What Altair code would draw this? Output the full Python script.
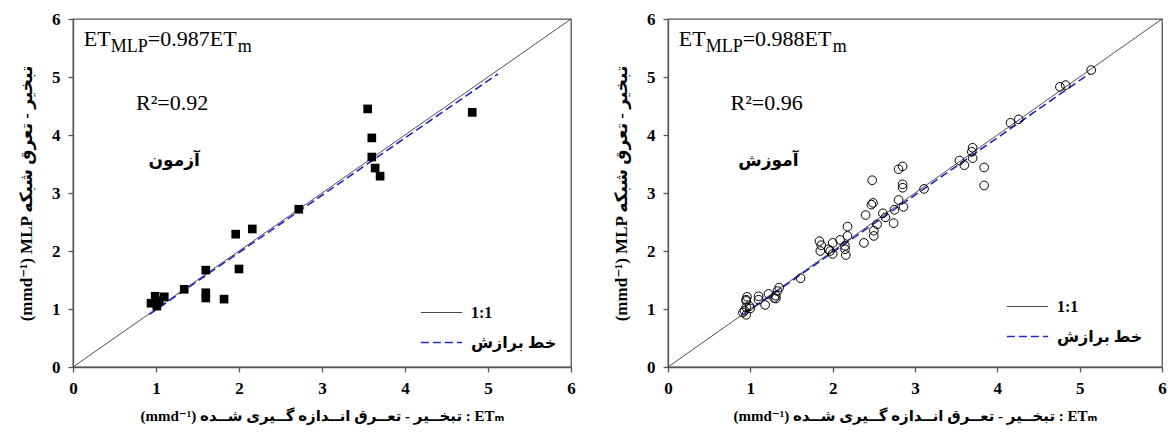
import altair as alt
import pandas as pd

# ---------------- data ----------------
test_x = [0.94, 0.99, 1.01, 1.04, 1.10, 1.34, 1.60, 1.60, 1.60, 1.82, 1.96, 2.00, 2.16, 2.72, 3.55, 3.60, 3.60, 3.64, 3.70, 4.81]
test_y = [1.10, 1.22, 1.05, 1.14, 1.21, 1.34, 1.67, 1.28, 1.19, 1.17, 2.29, 1.69, 2.38, 2.72, 4.45, 3.95, 3.62, 3.43, 3.29, 4.39]

train_x = [0.91, 0.95, 0.93, 0.96, 0.95, 0.95, 0.99, 1.00, 0.95,
           1.10, 1.10, 1.18, 1.22, 1.29, 1.31, 1.33, 1.35, 1.31,
           1.61,
           1.84, 1.85, 1.86, 1.95, 2.00, 2.00, 1.97, 2.09, 2.16, 2.18, 2.18, 2.15, 2.15,
           2.38, 2.40, 2.50, 2.50, 2.54, 2.49, 2.47, 2.48, 2.61, 2.64, 2.74, 2.75, 2.80, 2.86, 2.85, 2.85, 2.85, 2.80,
           3.11,
           3.54, 3.60, 3.70, 3.69, 3.70, 3.84, 3.84,
           4.16, 4.26, 4.76, 4.83, 5.14]
train_y = [0.94, 0.90, 0.97, 1.21, 1.16, 1.14, 1.05, 1.01, 1.03,
           1.22, 1.16, 1.07, 1.26, 1.19, 1.23, 1.31, 1.37, 1.18,
           1.53,
           2.17, 2.00, 2.10, 2.03, 2.14, 1.95, 2.00, 2.19, 1.93, 2.26, 2.42, 2.09, 2.03,
           2.14, 2.62, 2.26, 2.35, 2.46, 2.83, 2.80, 3.22, 2.65, 2.58, 2.48, 2.71, 2.88, 2.76, 3.15, 3.09, 3.46, 3.41,
           3.07,
           3.56, 3.48, 3.78, 3.71, 3.60, 3.44, 3.13,
           4.21, 4.27, 4.83, 4.86, 5.12]

tick_values = [0, 1, 2, 3, 4, 5, 6]
series_names = ["1:1", "خط برازش"]
identity_x = [0, 6]
fit_x = [0.92, 5.12]
slope_test = 0.987
slope_train = 0.988

x_title = "(mmd⁻¹) تبخــیر - تعــرق انــدازه گــیری شــده : ETₘ"
y_title = "(mmd⁻¹) MLP تبخیر - تعرق شبکه"

SERIF = "Liberation Serif, DejaVu Sans"
ARABIC = "DejaVu Sans, Liberation Serif"


def panel(px, py, marker, slope, slope_txt, r2_txt, name_txt, width, legend_x, legend_y):
    pts = pd.DataFrame({"x": px, "y": py})
    lines = pd.DataFrame({
        "x": identity_x + fit_x,
        "y": identity_x + [slope * v for v in fit_x],
        "series": [series_names[0]] * 2 + [series_names[1]] * 2,
    })
    xs = alt.Scale(domain=[0, 6], nice=False, zero=True)
    ys = alt.Scale(domain=[0, 6], nice=False, zero=True)
    xax = alt.Axis(values=tick_values, format="d", title=x_title)
    yax = alt.Axis(values=tick_values, format="d", title=y_title)

    leg = alt.Legend(orient="none", legendX=legend_x, legendY=legend_y, title=None,
                     symbolType="stroke", symbolSize=1700, symbolStrokeWidth=1.6,
                     labelFont=SERIF, labelFontWeight="bold", labelFontSize=16,
                     labelOffset=8, rowPadding=-13, labelColor="black")

    line_layer = alt.Chart(lines).mark_line().encode(
        x=alt.X("x:Q", scale=xs, axis=xax),
        y=alt.Y("y:Q", scale=ys, axis=yax),
        detail="series:N",
        color=alt.Color("series:N", scale=alt.Scale(domain=series_names, range=["#333333", "#2424c8"]), legend=leg),
        strokeDash=alt.StrokeDash("series:N", scale=alt.Scale(domain=series_names, range=[[1, 0], [8, 4]]), legend=leg),
        strokeWidth=alt.StrokeWidth("series:N", scale=alt.Scale(domain=series_names, range=[1.0, 1.6]), legend=None),
    )

    if marker == "square":
        pt_layer = alt.Chart(pts).mark_square(size=75, color="black", opacity=1).encode(
            x=alt.X("x:Q", scale=xs), y=alt.Y("y:Q", scale=ys))
    else:
        pt_layer = alt.Chart(pts).mark_point(shape="circle", size=75, filled=False, color="black",
                                             strokeWidth=1, opacity=1).encode(
            x=alt.X("x:Q", scale=xs), y=alt.Y("y:Q", scale=ys))

    def txt(t, x, y, size, font, weight="normal", dx=0, dy=0, align="left", baseline="alphabetic"):
        d = pd.DataFrame({"x": [x], "y": [y], "t": [t]})
        return alt.Chart(d).mark_text(fontSize=size, font=font, fontWeight=weight, dx=dx, dy=dy,
                                      align=align, baseline=baseline, color="black").encode(
            x=alt.X("x:Q", scale=xs), y=alt.Y("y:Q", scale=ys), text="t:N")

    ex, ey = 0.13, 5.54
    ann = [
        txt("ET", ex, ey, 22, SERIF),
        txt("MLP", ex, ey, 18, SERIF, dx=27, dy=6),
        txt(slope_txt, ex, ey, 22, SERIF, dx=64),
        txt("m", ex, ey, 18, SERIF, dx=154, dy=6),
        txt(r2_txt, 0.76, 4.43, 22, SERIF),
        txt(name_txt, 1.22, 3.56, 17, ARABIC, weight="bold", align="center", baseline="middle"),
    ]

    return alt.layer(line_layer, pt_layer, *ann).properties(width=width, height=348)


left = panel(test_x, test_y, "square", slope_test, "=0.987ET", "R²=0.92", "آزمون", 498, 347, 272)
right = panel(train_x, train_y, "circle", slope_train, "=0.988ET", "R²=0.96", "آموزش", 494, 338, 266)

chart = alt.hconcat(left, right, spacing=35).resolve_scale(
    color="independent", strokeDash="independent", strokeWidth="independent"
).resolve_legend(color="independent", strokeDash="independent").configure(
    padding={"left": 16, "top": 9, "right": 0, "bottom": 2},
    background="white",
).configure_view(
    stroke="#555555", strokeWidth=1.3
).configure_axis(
    grid=False, domainColor="#555555", domainWidth=1.3, tickColor="#555555", tickSize=5, tickWidth=1.3,
    labelFont="Liberation Serif", labelFontWeight="bold", labelFontSize=17, labelColor="black",
    labelPadding=8, labelFlush=False,
    titleFont=SERIF, titleFontWeight="bold", titleColor="black",
).configure_axisX(titlePadding=12, titleFontSize=15).configure_axisY(titlePadding=16, titleFontSize=17)

chart.save("out.html", embed_options={"renderer": "svg", "actions": False})
